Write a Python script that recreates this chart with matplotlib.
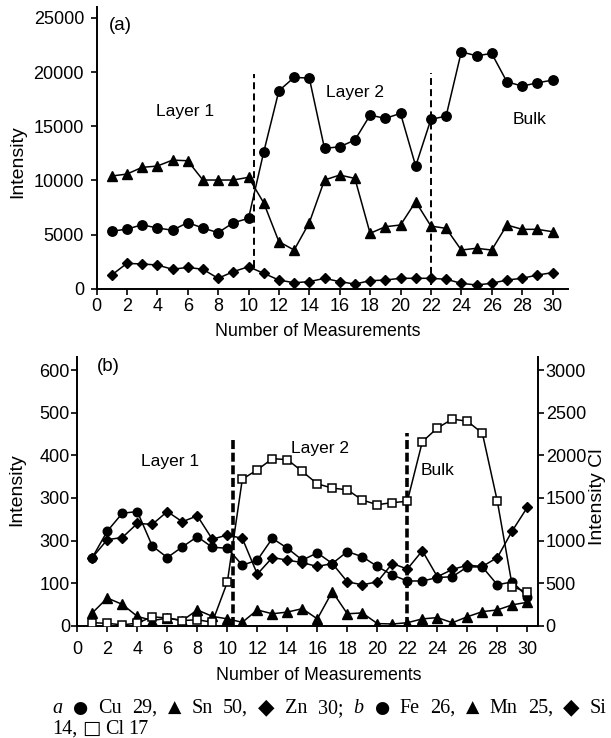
import matplotlib
matplotlib.use("Agg")
import matplotlib.pyplot as plt

plt.rcParams['font.family'] = ['Liberation Sans', 'DejaVu Sans']
plt.rcParams['lines.scale_dashes'] = False

W, H = 611, 738

# ---------------- data ----------------
meas = list(range(1, 31))

# panel (a)
cu = [5300, 5500, 5900, 5600, 5400, 6100, 5600, 5170, 6090, 6490,
      12600, 18270, 19500, 19440, 12950, 13100, 13720, 16020, 15720, 16180,
      11320, 15630, 15930, 21860, 21500, 21710, 19100, 18700, 19000, 19250]
sn = [10400, 10580, 11200, 11320, 11870, 11810, 10030, 10030, 10030, 10280,
      7930, 4340, 3570, 6090, 10030, 10490, 10180, 5110, 5720, 5880,
      8030, 5780, 5570, 3570, 3730, 3570, 5880, 5480, 5480, 5260]
zn = [1260, 2340, 2280, 2190, 1790, 1970, 1790, 960, 1570, 2030,
      1420, 800, 550, 650, 960, 650, 430, 740, 800, 960,
      960, 960, 870, 500, 340, 500, 800, 960, 1260, 1480]

# panel (b)
fe = [160, 222, 264, 268, 187, 160, 185, 209, 184, 182,
      142, 154, 205, 182, 154, 171, 146, 174, 162, 139,
      119, 105, 105, 113, 115, 138, 138, 96, 103, 68]
mn = [30, 65, 50, 22, 12, 18, 12, 37, 22, 16,
      8, 37, 28, 32, 40, 16, 80, 28, 30, 5,
      4, 7, 16, 19, 7, 21, 33, 37, 49, 55]
si = [160, 202, 207, 240, 238, 268, 244, 258, 203, 213,
      205, 121, 160, 154, 148, 139, 146, 103, 96, 103,
      146, 133, 176, 115, 132, 142, 139, 160, 223, 278]
cl = [35, 28, 10, 30, 105, 90, 60, 70, 40, 510,
      1720, 1830, 1960, 1950, 1810, 1665, 1615, 1595, 1475, 1420,
      1445, 1460, 2160, 2320, 2425, 2400, 2260, 1460, 460, 390]

# boundaries (x position, y bottom, y top)
bound_a_x = [10.36, 22.0]
bound_a_lo = [2000, 300]
bound_a_hi = [19800, 19900]
bound_b_x = [10.4, 22.0]
bound_b_lo = [0, 0]
bound_b_hi = [440, 452]

xticks = list(range(0, 31, 2))
yticks_a = [0, 5000, 10000, 15000, 20000, 25000]
yticks_b = [0, 100, 200, 300, 400, 500, 600]
ylabels_b = ['0', '100', '300', '300', '400', '500', '600']
yticks_cl = [0, 500, 1000, 1500, 2000, 2500, 3000]

# ---------------- figure ----------------
fig = plt.figure(figsize=(W / 100, H / 100), dpi=100)


def rect(l, r, t, b):
    return [l / W, 1 - b / H, (r - l) / W, (b - t) / H]


axa = fig.add_axes(rect(96.5, 567.7, 7, 288.7))
axb = fig.add_axes(rect(77.3, 538.3, 356.7, 625.7))

LW = 1.1
for ax in (axa, axb):
    ax.spines['top'].set_visible(False)
    ax.spines['right'].set_visible(False)
    for s in ('left', 'bottom'):
        ax.spines[s].set_linewidth(1.4)
    ax.tick_params(direction='out', length=4, width=1.2, labelsize=13)

# panel (a)
axa.plot(meas, cu, '-o', color='black', lw=LW, ms=6.8)
axa.plot(meas, sn, '-^', color='black', lw=LW, ms=7.5)
axa.plot(meas, zn, '-D', color='black', lw=LW, ms=5.3)
axa.vlines(bound_a_x, bound_a_lo, bound_a_hi, colors='black', lw=1.4,
           linestyles=[(0, (5, 3))])
axa.set_xlim(0, 31)
axa.set_ylim(0, 26000)
axa.set_xticks(xticks)
axa.set_yticks(yticks_a)
axa.tick_params(axis='x', pad=3)
axa.tick_params(axis='y', pad=5)
axa.text(1.6, 24300, '(a)', fontsize=13.5, ha='center', va='center')
axa.text(5.85, 16390, 'Layer 1', fontsize=12.5, ha='center', va='center')
axa.text(17.0, 18150, 'Layer 2', fontsize=12.5, ha='center', va='center')
axa.text(28.5, 15630, 'Bulk', fontsize=12.5, ha='center', va='center')

# panel (b)
axb.plot(meas, fe, '-o', color='black', lw=LW, ms=6.2, zorder=3)
axb.plot(meas, mn, '-^', color='black', lw=LW, ms=7.0, zorder=3)
axb.plot(meas, si, '-D', color='black', lw=LW, ms=4.8, zorder=3)
axb.vlines(bound_b_x, bound_b_lo, bound_b_hi, colors='black', lw=2.6,
           linestyles=[(0, (6.5, 2.6))], zorder=2)
axb.set_xlim(0, 30.73)
axb.set_ylim(0, 631.5)
axb.set_xticks(xticks)
axb.set_yticks(yticks_b)
axb.set_yticklabels(ylabels_b)
axb.tick_params(axis='x', pad=6.8)
axb.tick_params(axis='y', pad=1.3)
axb.text(2.05, 608, '(b)', fontsize=13.5, ha='center', va='center')
axb.text(6.2, 385, 'Layer 1', fontsize=12.5, ha='center', va='center')
axb.text(16.2, 416, 'Layer 2', fontsize=12.5, ha='center', va='center')
axb.text(24.0, 365, 'Bulk', fontsize=12.5, ha='center', va='center')

axc = axb.twinx()
axc.plot(meas, cl, '-s', color='black', lw=LW, ms=6.0,
         markerfacecolor='white', markeredgecolor='black', mew=1.1)
axc.set_ylim(0, 3157.5)
axc.set_yticks(yticks_cl)
axc.spines['top'].set_visible(False)
axc.spines['left'].set_visible(False)
axc.spines['bottom'].set_visible(False)
axc.spines['right'].set_linewidth(1.4)
axc.tick_params(direction='out', length=4, width=1.2, labelsize=13, pad=1.3)

# axis labels
fig.text(18 / W, 1 - 162 / H, 'Intensity', rotation=90, fontsize=14,
         ha='center', va='center')
fig.text(17 / W, 1 - 490 / H, 'Intensity', rotation=90, fontsize=14,
         ha='center', va='center')
fig.text(598 / W, 1 - 497 / H, 'Intensity Cl', rotation=90, fontsize=14,
         ha='center', va='center')
fig.text(318 / W, 1 - 332 / H, 'Number of Measurements', fontsize=12.8,
         ha='center', va='center')
fig.text(319 / W, 1 - 675.5 / H, 'Number of Measurements', fontsize=12.8,
         ha='center', va='center')

# caption (justified first line)
cap_fam = ['Liberation Serif', 'DejaVu Serif', 'DejaVu Sans']
sym_fam = ['DejaVu Sans']
SYM_SIZE = {'\u25CF': 12.5, '\u25B2': 12.5, '\u25C6': 15.5, '\u25A1': 14.0}
tokens1 = [('a', True), ('\u25CF', False), ('Cu', False), ('29,', False),
           ('\u25B2', False), ('Sn', False), ('50,', False), ('\u25C6', False),
           ('Zn', False), ('30;', False), ('b', True), ('\u25CF', False),
           ('Fe', False), ('26,', False), ('\u25B2', False), ('Mn', False),
           ('25,', False), ('\u25C6', False), ('Si', False)]
tokens2 = [('14,', False), ('\u25A1', False), ('Cl', False), ('17', False)]
fig.canvas.draw()
renderer = fig.canvas.get_renderer()


def make_tokens(tokens, base):
    out = []
    for tok, it in tokens:
        if tok in SYM_SIZE:
            t = fig.text(0, 1 - base / H, tok, fontsize=SYM_SIZE[tok],
                         family=sym_fam, va='baseline', ha='left')
        else:
            t = fig.text(0, 1 - base / H, tok, fontsize=14.5, family=cap_fam,
                         style='italic' if it else 'normal',
                         va='baseline', ha='left')
        out.append(t)
    ws = [t.get_window_extent(renderer).width for t in out]
    return out, ws


left, right = 52, 607
items, widths = make_tokens(tokens1, 713)
gap = (right - left - sum(widths)) / (len(items) - 1)
xp = left
for t, w in zip(items, widths):
    t.set_x(xp / W)
    xp += w + gap

items2, widths2 = make_tokens(tokens2, 733.5)
xp = left
for t, w in zip(items2, widths2):
    t.set_x(xp / W)
    xp += w + 4.5

fig.savefig('out.png', dpi=100)
